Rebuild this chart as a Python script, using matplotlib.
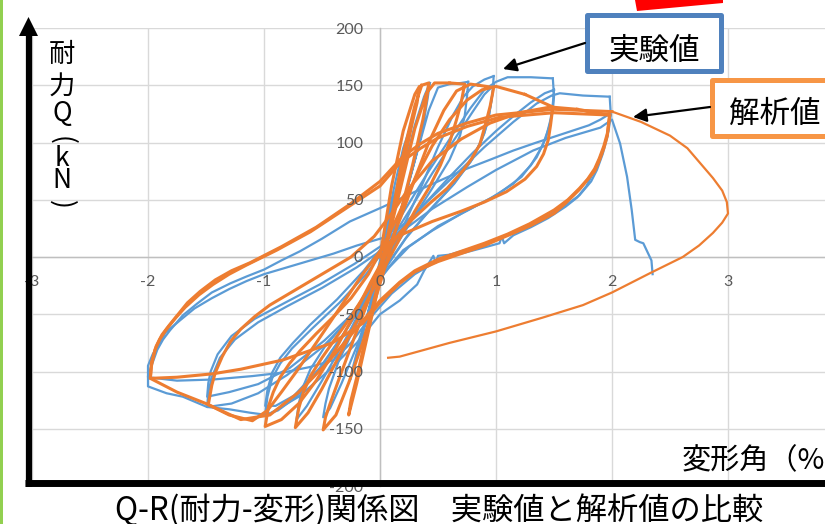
import matplotlib
matplotlib.use("Agg")
import matplotlib.pyplot as plt
from matplotlib.lines import Line2D
from matplotlib.patches import Polygon, Rectangle, FancyArrowPatch

plt.rcParams['font.family'] = ['Noto Sans CJK JP', 'DejaVu Sans']

# ---- data: 実験値 (experiment), one list pair per loading cycle ----
exp_c1_x = [0.0, 0.05, 0.12, 0.2, 0.25, 0.22, 0.17, 0.1, 0.03, -0.05, -0.13, -0.22, -0.26, -0.23, -0.17, -0.1, 0.0, 0.1, 0.2, 0.3, 0.38, 0.43]
exp_c1_y = [0, 25, 60, 95, 110, 95, 72, 42, 10, -25, -60, -95, -108, -95, -72, -48, -10, 30, 75, 115, 140, 152]
exp_c2_x = [0.43, 0.41, 0.38, 0.34, 0.25, 0.15, 0.05, -0.07, -0.2, -0.33, -0.43, -0.49, -0.47, -0.44, -0.36, -0.25, -0.12, 0.0, 0.1, 0.22, 0.33, 0.42, 0.5, 0.6, 0.7, 0.76]
exp_c2_y = [152, 138, 120, 100, 65, 30, -5, -40, -78, -110, -132, -140, -128, -115, -92, -68, -42, -15, 15, 55, 95, 128, 148, 151, 152, 153]
exp_c3_x = [0.76, 0.75, 0.73, 0.69, 0.6, 0.45, 0.28, 0.12, 0.0, -0.15, -0.32, -0.5, -0.63, -0.72, -0.7, -0.67, -0.6, -0.48, -0.3, -0.12, 0.03, 0.18, 0.35, 0.5, 0.63, 0.72, 0.8, 0.9, 0.98]
exp_c3_y = [153, 140, 123, 106, 85, 60, 33, 7, -15, -43, -76, -108, -130, -142, -128, -115, -98, -79, -57, -33, -8, 22, 60, 96, 124, 140, 149, 155, 158]
exp_c4_x = [0.98, 0.97, 0.94, 0.9, 0.8, 0.64, 0.44, 0.24, 0.08, -0.08, -0.28, -0.5, -0.72, -0.88, -0.99, -0.97, -0.93, -0.86, -0.76, -0.58, -0.35, -0.12, 0.05, 0.25, 0.45, 0.65, 0.8, 0.9, 0.98]
exp_c4_y = [158, 143, 124, 108, 86, 64, 42, 19, -4, -30, -62, -95, -122, -134, -138, -122, -106, -93, -80, -62, -40, -15, 8, 40, 73, 104, 127, 142, 150]
exp_c5_x = [0.98, 0.96, 0.93, 0.88, 0.78, 0.62, 0.42, 0.22, 0.06, -0.1, -0.3, -0.52, -0.74, -0.9, -0.99, -0.97, -0.93, -0.86, -0.75, -0.6, -0.37, -0.14, 0.03, 0.22, 0.42, 0.62, 0.78, 0.9, 1.0, 1.1, 1.3, 1.49]
exp_c5_y = [150, 136, 118, 103, 83, 62, 40, 16, -8, -33, -65, -97, -121, -130, -130, -116, -101, -88, -75, -59, -37, -12, 10, 42, 75, 106, 130, 146, 153, 157, 157, 156]
exp_c6_x = [1.49, 1.5, 1.49, 1.46, 1.4, 1.3, 1.15, 0.95, 0.72, 0.45, 0.2, 0.05, -0.08, -0.25, -0.5, -0.8, -1.05, -1.28, -1.49, -1.48, -1.45, -1.38, -1.25, -1.05, -0.8, -0.5, -0.2, 0.0, 0.2, 0.4, 0.6, 0.8, 1.0, 1.15, 1.3, 1.42, 1.5]
exp_c6_y = [156, 140, 128, 114, 97, 80, 64, 51, 39, 23, 6, -12, -30, -53, -79, -103, -119, -128, -131, -118, -105, -88, -72, -57, -43, -27, -9, 5, 26, 48, 70, 91, 110, 123, 135, 143, 146]
exp_c7_x = [1.5, 1.49, 1.47, 1.43, 1.35, 1.22, 1.02, 0.78, 0.5, 0.25, 0.08, -0.06, -0.22, -0.48, -0.78, -1.05, -1.3, -1.49, -1.48, -1.46, -1.4, -1.28, -1.08, -0.82, -0.52, -0.22, 0.0, 0.3, 0.6, 0.9, 1.15, 1.35, 1.48, 1.55, 1.75, 1.98]
exp_c7_y = [146, 134, 120, 104, 87, 70, 55, 42, 27, 9, -9, -27, -48, -73, -97, -111, -118, -122, -110, -100, -85, -69, -54, -40, -24, -6, 9, 38, 67, 96, 118, 134, 141, 143, 141, 140]
exp_c8_x = [1.98, 1.99, 1.97, 1.94, 1.9, 1.84, 1.78, 1.7, 1.6, 1.45, 1.3, 1.15, 1.07, 1.05, 1.03, 0.85, 0.7, 0.5, 0.48, 0.46, 0.38, 0.32, 0.17, 0.0, -0.2, -0.45, -0.7, -0.97, -1.12, -1.3, -1.49, -1.7, -1.84, -2.0, -2.0, -1.97, -1.92, -1.87, -1.81, -1.7, -1.58, -1.45, -1.29, -1.15, -1.0, -0.85, -0.69, -0.5, -0.26, 0.03, 0.28, 0.5, 0.72, 0.95, 1.15, 1.35, 1.5, 1.65, 1.8, 1.9, 1.98]
exp_c8_y = [140, 124, 110, 99, 88, 74, 62, 52, 44, 34, 26, 19, 12, 18, 12, 7, 3, 1, -5, 1, -12, -24, -38, -50, -75, -100, -122, -138, -136, -133, -131, -122, -119, -113, -104, -95, -81, -72, -64, -51, -41, -31, -23, -17, -11, -3, 5, 16, 31, 44, 56, 66, 76, 85, 93, 100, 105, 110, 115, 120, 125]
exp_c9_x = [1.98, 1.96, 1.92, 1.87, 1.82, 1.72, 1.6, 1.45, 1.3, 1.15, 1.0, 0.8, 0.6, 0.45, 0.3, 0.1, -0.1, -0.25, -0.4, -0.6, -0.84, -1.1, -1.44, -1.75, -2.0, -2.0, -1.96, -1.9, -1.85, -1.72, -1.6, -1.45, -1.3, -1.15, -1.0, -0.8, -0.6, -0.4, -0.2, 0.17, 0.45, 0.75, 1.0, 1.32, 1.6, 1.9, 2.0, 2.07, 2.13, 2.17, 2.2, 2.24, 2.27, 2.34, 2.35]
exp_c9_y = [125, 105, 90, 76, 66, 54, 45, 36, 28, 21, 15, 8, 2, -6, -15, -32, -55, -75, -90, -96, -101, -104, -107, -108, -105, -95, -85, -75, -66, -55, -45, -36, -28, -21, -15, -9, -3, 3, 10, 21, 42, 61, 76, 93, 104, 113, 120, 99, 70, 41, 15, 13, 12, -3, -15]

# ---- data: 解析値 (analysis) ----
ana_c1_x = [0.0, 0.1, 0.2, 0.3, 0.34, 0.32, 0.28, 0.18, 0.08, 0.0, -0.1, -0.2, -0.27, -0.25, -0.2, -0.1, 0.0, 0.1, 0.2, 0.3, 0.36]
ana_c1_y = [0, 62, 110, 142, 149, 135, 118, 70, 20, -20, -65, -110, -138, -125, -105, -60, -15, 35, 90, 132, 150]
ana_c2_x = [0.36, 0.42, 0.4, 0.37, 0.28, 0.18, 0.07, -0.05, -0.15, -0.27, -0.38, -0.49, -0.47, -0.43, -0.33, -0.22, -0.1, 0.0, 0.1, 0.2, 0.3, 0.4, 0.47, 0.6]
ana_c2_y = [150, 152, 137, 120, 80, 40, 0, -40, -75, -110, -138, -151, -140, -128, -100, -70, -38, -8, 28, 70, 112, 143, 152, 152]
ana_c3_x = [0.6, 0.73, 0.7, 0.66, 0.6, 0.52, 0.42, 0.3, 0.18, 0.06, -0.08, -0.22, -0.36, -0.5, -0.62, -0.73, -0.7, -0.66, -0.6, -0.5, -0.39, -0.25, -0.1, 0.05, 0.18, 0.3, 0.42, 0.55, 0.66, 0.78, 0.85]
ana_c3_y = [152, 151, 135, 120, 100, 80, 60, 40, 18, -5, -32, -60, -88, -115, -136, -149, -132, -118, -104, -88, -72, -52, -28, 2, 35, 68, 100, 128, 145, 151, 150]
ana_c4_x = [0.85, 0.98, 0.95, 0.92, 0.86, 0.79, 0.72, 0.58, 0.43, 0.28, 0.17, 0.05, -0.08, -0.22, -0.38, -0.55, -0.7, -0.85, -0.99, -0.96, -0.92, -0.86, -0.78, -0.69, -0.55, -0.41, -0.25, -0.1, 0.02, 0.15, 0.3, 0.45, 0.6, 0.75, 0.88, 1.0, 1.25]
ana_c4_y = [150, 148, 132, 120, 98, 86, 76, 60, 47, 33, 21, 2, -22, -50, -80, -108, -128, -142, -148, -130, -118, -105, -93, -82, -67, -53, -36, -15, 8, 35, 68, 97, 120, 137, 146, 149, 142]
ana_c5_x = [1.25, 1.49, 1.47, 1.45, 1.41, 1.35, 1.25, 1.09, 0.9, 0.7, 0.45, 0.15, 0.0, -0.15, -0.35, -0.55, -0.72, -0.85, -0.97, -1.1, -1.3, -1.48, -1.45, -1.42, -1.36, -1.29, -1.2, -1.08, -0.95, -0.75, -0.5, -0.25, -0.05, 0.1, 0.25, 0.45, 0.7, 0.95, 1.2, 1.47, 1.7]
ana_c5_y = [142, 131, 115, 102, 90, 79, 68, 57, 48, 40, 31, 18, 5, -15, -45, -75, -100, -118, -134, -143, -138, -129, -112, -101, -87, -74, -63, -52, -42, -30, -15, 0, 18, 38, 60, 84, 103, 117, 126, 131, 129]
ana_c6_x = [1.7, 1.98, 1.96, 1.93, 1.89, 1.85, 1.79, 1.72, 1.62, 1.5, 1.29, 1.1, 0.9, 0.7, 0.5, 0.3, 0.17, 0.0, -0.2, -0.45, -0.7, -0.95, -1.2, -1.5, -1.75, -1.98, -1.97, -1.94, -1.9, -1.84, -1.76, -1.68, -1.56, -1.44, -1.3, -1.15, -0.89, -0.6, -0.3, 0.0, 0.17, 0.35, 0.5, 0.75, 1.03, 1.5, 1.98]
ana_c6_y = [129, 124, 108, 97, 86, 77, 68, 60, 50, 41, 29, 20, 12, 5, -2, -12, -22, -38, -62, -92, -118, -138, -142, -128, -118, -106, -95, -81, -72, -63, -53, -44, -33, -24, -15, -7, 6, 22, 42, 62, 82, 95, 104, 114, 122, 126, 124]
ana_c7_x = [1.98, 1.96, 1.93, 1.89, 1.85, 1.72, 1.6, 1.5, 1.29, 0.9, 0.5, 0.3, 0.17, 0.0, -0.15, -0.41, -0.84, -1.2, -1.44, -1.75, -1.98, -1.97, -1.93, -1.88, -1.82, -1.74, -1.66, -1.55, -1.42, -1.28, -1.12, -0.85, -0.55, -0.26, 0.0, 0.2, 0.35, 0.5, 0.75, 1.0, 1.5, 2.0]
ana_c7_y = [124, 106, 95, 84, 75, 59, 47, 38, 27, 10, -4, -13, -23, -40, -58, -75, -90, -98, -102, -105, -106, -92, -78, -68, -60, -50, -40, -30, -20, -12, -5, 9, 26, 46, 66, 88, 99, 108, 117, 124, 129, 127]
ana_end_x = [2.0, 2.25, 2.5, 2.65, 2.76, 2.87, 2.95, 2.99, 3.0, 2.95, 2.87, 2.75, 2.61, 2.45, 2.33, 2.0, 1.75, 1.4, 1.0, 0.6, 0.17, 0.07]
ana_end_y = [127, 118, 106, 95, 82, 69, 58, 48, 38, 30, 21, 10, 0, -8, -14, -31, -42, -53, -65, -75, -87, -88]

x_ticks = [-3, -2, -1, 0, 1, 2, 3]
y_ticks = [-200, -150, -100, -50, 0, 50, 100, 150, 200]

exp_cycles = [(exp_c1_x, exp_c1_y), (exp_c2_x, exp_c2_y), (exp_c3_x, exp_c3_y),
              (exp_c4_x, exp_c4_y), (exp_c5_x, exp_c5_y), (exp_c6_x, exp_c6_y),
              (exp_c7_x, exp_c7_y), (exp_c8_x, exp_c8_y), (exp_c9_x, exp_c9_y)]
ana_cycles = [(ana_c1_x, ana_c1_y), (ana_c2_x, ana_c2_y), (ana_c3_x, ana_c3_y),
              (ana_c4_x, ana_c4_y), (ana_c5_x, ana_c5_y), (ana_c6_x, ana_c6_y),
              (ana_c7_x, ana_c7_y)]

W, H = 825, 524
BLUE = '#5b9bd5'
ORANGE = '#ed7d31'


def fx(px):
    return px / W


def fy(py):
    return 1 - py / H


fig = plt.figure(figsize=(W / 100, H / 100), dpi=100)
ax = fig.add_axes([fx(32), fy(486), 1 - fx(32), fy(28) - fy(486)])
ax.set_xlim(-3, (825 - 380) / 116)
ax.set_ylim(-200, 200)

for v in x_ticks:
    ax.axvline(v, color='#d9d9d9', lw=1, zorder=0)
for v in y_ticks:
    ax.axhline(v, color='#d9d9d9', lw=1, zorder=0)

for xs, ys in exp_cycles:
    ax.plot(xs, ys, color=BLUE, lw=1.6, zorder=2, solid_joinstyle='round')
for xs, ys in ana_cycles:
    ax.plot(xs, ys, color=ORANGE, lw=2.2, zorder=3, solid_joinstyle='round')
ax.plot(ana_end_x, ana_end_y, color=ORANGE, lw=1.6, zorder=3, solid_joinstyle='round')

for s in ['top', 'right']:
    ax.spines[s].set_visible(False)
ax.spines['left'].set_position(('data', 0))
ax.spines['bottom'].set_position(('data', 0))
for s in ['left', 'bottom']:
    ax.spines[s].set_color('#bfbfbf')
    ax.spines[s].set_linewidth(1)
    ax.spines[s].set_zorder(1)

ax.set_xticks(x_ticks)
ax.set_xticklabels([str(v) for v in x_ticks])
ax.set_yticks(y_ticks)
ax.set_yticklabels([str(v) for v in y_ticks])
ax.tick_params(axis='x', length=0, pad=13, labelsize=11.5, labelcolor='#595959', labelfontfamily='Lato')
ax.tick_params(axis='y', length=0, pad=12, labelsize=11.5, labelcolor='#595959', labelfontfamily='Lato')
ax.xaxis.set_zorder(4)
ax.yaxis.set_zorder(4)
ax.patch.set_alpha(0)

# green stripe + red shape at the edges
fig.add_artist(Rectangle((0, 0), fx(3), 1, transform=fig.transFigure, color='#92d050', lw=0))
fig.add_artist(Polygon([(fx(635), fy(0)), (fx(723), fy(0)), (fx(723), fy(3)), (fx(637), fy(11))],
                       closed=True, transform=fig.transFigure, color='#ff0000', lw=0))

# big black axis arrows
fig.add_artist(Line2D([fx(28.5), fx(28.5)], [fy(487), fy(32)], transform=fig.transFigure,
                      color='black', lw=4.5, solid_capstyle='butt'))
fig.add_artist(Polygon([(fx(28.5), fy(17)), (fx(19), fy(36)), (fx(38), fy(36))], closed=True,
                       transform=fig.transFigure, color='black', lw=0))
fig.add_artist(Line2D([fx(25), fx(830)], [fy(483), fy(483)], transform=fig.transFigure,
                      color='black', lw=5, solid_capstyle='butt'))

# callout boxes
fig.add_artist(Rectangle((fx(587), fy(71)), fx(721) - fx(587), fy(15) - fy(71), transform=fig.transFigure,
                         facecolor='white', edgecolor='#4f81bd', lw=3.6, joinstyle='round'))
fig.text(fx(654), fy(60), '実験値', fontsize=22, ha='center', va='baseline', color='black')
fig.add_artist(Rectangle((fx(712), fy(136)), fx(840) - fx(712), fy(80) - fy(136), transform=fig.transFigure,
                         facecolor='white', edgecolor='#f79646', lw=3.6, joinstyle='round'))
fig.text(fx(729), fy(123), '解析値', fontsize=22, ha='left', va='baseline', color='black')

for (x0, y0), (x1, y1) in [((585, 43), (503, 69)), ((710, 107), (633, 117))]:
    fig.add_artist(FancyArrowPatch((fx(x0), fy(y0)), (fx(x1), fy(y1)), transform=fig.transFigure,
                                   arrowstyle='-|>', mutation_scale=20, lw=1.6, color='black',
                                   shrinkA=0, shrinkB=0))

# vertical y label, one character per row
for ch, py, rot in [('耐', 54, 0), ('力', 87, 0), ('Q', 113, 0), ('(', 140, -90),
                    ('k', 158, 0), ('N', 181, 0), (')', 204, -90)]:
    fig.text(fx(62), fy(py), ch, fontsize=19, ha='center', va='center', rotation=rot)

fig.text(fx(682), fy(469), '変形角（%）', fontsize=21, ha='left', va='baseline')
fig.text(fx(439), fy(521), 'Q-R(耐力-変形)関係図　実験値と解析値の比較', fontsize=22.5,
         ha='center', va='baseline')

fig.savefig('out.png', dpi=100)
